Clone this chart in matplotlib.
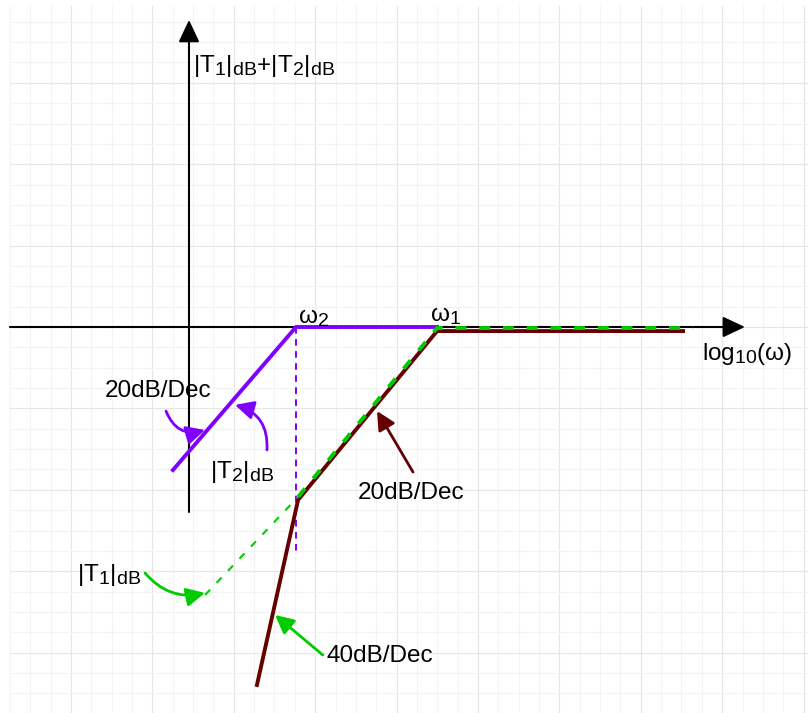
import numpy as np
import matplotlib
matplotlib.use("Agg")
import matplotlib.pyplot as plt
from matplotlib import _mathtext

# draw.io style subscripts are a bit bigger than mathtext default
_mathtext.SHRINK_FACTOR = 0.8

plt.rcParams['font.family'] = ['Liberation Sans', 'DejaVu Sans']
plt.rcParams['mathtext.fontset'] = 'custom'
plt.rcParams['mathtext.rm'] = 'Liberation Sans'
plt.rcParams['mathtext.it'] = 'Liberation Sans:italic'

# corner frequencies (log10 scale, grid units)
w2 = 5.26
w1 = 12.19

# |T2|dB asymptote
t2_x = [-0.79, w2, w1]
t2_y = [-7.03, 0.0, 0.0]

# |T1|dB asymptote: dotted extension below w2, dashed above
t1_ext_x = [0.79, 5.36]
t1_ext_y = [-13.17, -8.35]
t1_x = [5.36, w1, 24.77]
t1_y = [-8.35, -0.05, -0.05]

# |T1|dB + |T2|dB
sum_x = [3.34, 5.36, w1, 24.28]
sum_y = [-17.59, -8.50, -0.20, -0.20]

purple = '#7f00ff'
green = '#00cc00'
darkred = '#660000'
fs = 17.5

fig = plt.figure(figsize=(8.08, 7.13), dpi=100)
ax = fig.add_axes([0, 0, 1, 1])
ax.set_xlim(-9.287, 30.418)
ax.set_ylim(-18.968, 16.069)
ax.axis('off')

# background grid
for k in range(40):
    gx = -8.8 + k
    c = '#e6e6e6' if k % 4 == 3 else '#f3f3f3'
    ax.plot([gx, gx], [-18.968, 15.77], color=c, lw=0.8, zorder=0)
for gy in range(-18, 16):
    c = '#e6e6e6' if gy % 4 == 0 else '#f3f3f3'
    ax.plot([-8.8, 30.418], [gy, gy], color=c, lw=0.8, zorder=0)

# axes with arrows
ax_kw = dict(arrowstyle='-|>,head_length=0.68,head_width=0.32', lw=1.5,
             color='black', shrinkA=0, shrinkB=0, mutation_scale=20)
ax.annotate('', xy=(27.32, 0), xytext=(-8.8, 0), arrowprops=ax_kw, zorder=1)
ax.annotate('', xy=(0, 15.09), xytext=(0, -9.09), arrowprops=ax_kw, zorder=1)

# curves
ax.plot(t2_x, t2_y, color=purple, lw=2.8, zorder=2)
ax.plot([w2, w2], [0, -11.2], color=purple, lw=1.4, dashes=(3.4, 2.8), zorder=2)
ax.plot(sum_x, sum_y, color=darkred, lw=2.8, zorder=3)
ax.plot(t1_ext_x, t1_ext_y, color=green, lw=1.5, dashes=(3.5, 4.5), zorder=4)
ax.plot(t1_x, t1_y, color=green, lw=2.8, dashes=(2.8, 3.3), zorder=4)

# labels
ax.text(0.197, 12.53, r'|T$_1$|$_{\rm dB}$+|T$_2$|$_{\rm dB}$', fontsize=fs)
ax.text(5.356, 0.197, r'ω$_2$', fontsize=fs)
ax.text(11.84, 0.295, r'ω$_1$', fontsize=fs)
ax.text(25.21, -1.62, r'log$_{10}$(ω)', fontsize=fs)
ax.text(-4.13, -3.44, '20dB/Dec', fontsize=fs)
ax.text(1.03, -7.42, r'|T$_2$|$_{\rm dB}$', fontsize=fs)
ax.text(8.30, -8.45, '20dB/Dec', fontsize=fs)
ax.text(-5.50, -12.48, r'|T$_1$|$_{\rm dB}$', fontsize=fs)
ax.text(6.78, -16.46, '40dB/Dec', fontsize=fs)

# annotation arrows
def arrow(tail, head, color, rad):
    ax.annotate('', xy=head, xytext=tail, zorder=5,
                arrowprops=dict(arrowstyle='-|>,head_length=0.7,head_width=0.35',
                                mutation_scale=16, lw=2, color=color,
                                shrinkA=0, shrinkB=0,
                                connectionstyle='arc3,rad=%s' % rad))

arrow((-1.13, -4.13), (0.786, -5.06), purple, 0.45)
arrow((3.83, -6.04), (2.26, -3.83), purple, 0.4)
arrow((11.01, -7.13), (9.24, -4.13), darkred, 0)
arrow((-2.16, -12.09), (0.786, -13.07), green, 0.3)
arrow((6.58, -16.12), (4.23, -14.15), green, 0)

fig.savefig('out.png', dpi=100)
